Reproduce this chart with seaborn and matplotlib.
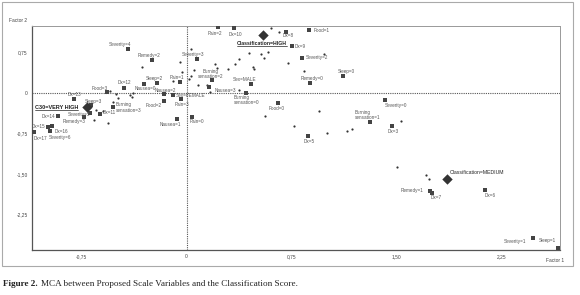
import matplotlib
matplotlib.use("Agg")
import matplotlib.pyplot as plt
import matplotlib.patches as patches
from matplotlib.lines import Line2D
import seaborn as sns
import pandas as pd

# category points (labelled squares)
categories = [
    "Severity=4", "Remedy=2", "Sleep=2", "Pain=1", "Dx=12", "Nausea=0", "Food=3",
    "Nausea=2", "Sex=FEMALE", "Dx=13", "Sleep=3", "Burning sensation=3", "Food=2",
    "Pain=3", "Severity=5", "Dx=11", "Dx=14", "Remedy=3", "Nausea=1", "Pain=0",
    "Dx=15", "Dx=16", "Severity=6", "Dx=17", "Pain=2", "Dx=10", "Dx=8", "Food=1",
    "Dx=9", "Severity=2", "Severity=3", "Burning sensation=2", "Sex=MALE", "Remedy=0",
    "Sleep=0", "Nausea=3", "Burning sensation=0", "Food=0", "Burning sensation=1",
    "Dx=5", "Severity=0", "Dx=3", "Remedy=1", "Dx=7", "Dx=6", "Severity=1", "Sleep=1",
]
factor1 = [
    -0.416, -0.249, -0.213, -0.046, -0.446, -0.304, -0.566,
    -0.161, -0.096, -0.804, -0.682, -0.525, -0.159,
    -0.039, -0.689, -0.618, -0.916, -0.732, -0.070, 0.041,
    -0.987, -0.959, -0.975, -1.089, 0.227, 0.339, 0.711, 0.877,
    0.751, 0.823, 0.075, 0.184, 0.461, 0.882,
    1.120, 0.163, 0.425, 0.656, 1.311,
    0.866, 1.418, 1.466, 1.739, 1.757, 2.132, 2.475, 2.656,
]
factor2 = [
    0.796, 0.599, 0.180, 0.199, 0.077, 0.151, 0.015,
    -0.028, -0.046, -0.120, -0.230, -0.273, -0.151,
    -0.125, -0.378, -0.401, -0.427, -0.451, -0.488, -0.457,
    -0.630, -0.608, -0.709, -0.733, 1.201, 1.182, 1.120, 1.151,
    0.856, 0.630, 0.617, 0.230, 0.157, 0.180,
    0.304, 0.107, -0.009, -0.188, -0.538,
    -0.796, -0.138, -0.617, -1.814, -1.842, -1.796, -2.674, -2.869,
]

# classification score categories (diamonds)
class_names = ["C30=VERY HIGH", "Classification=HIGH", "Classification=MEDIUM"]
class_f1 = [-0.709, 0.544, 1.863]
class_f2 = [-0.273, 1.059, -1.593]

# unlabelled case points (small dots)
case_f1 = [-0.320, 0.032, -0.046, 0.054, -0.032, 0.030, 0.016, -0.096, 0.604, 0.663,
           0.982, 0.584, 0.530, 0.554, 0.449, 0.377, 0.346, 0.204, 0.216, 0.299,
           0.473, 0.482, 0.727, 0.841, 0.084, 0.377, 0.949, 0.561, 0.770, 1.001,
           1.144, 1.180, 1.532, 1.506, 1.709, 1.732, -0.546, -0.504, -0.489, -0.404,
           -0.382, -0.389, -0.525, -0.646, -0.625, -0.596, -0.661, -0.561, 0.145, 0.168]
case_f2 = [0.479, 0.801, 0.562, 0.414, 0.378, 0.304, 0.254, 0.212, 1.182, 1.120,
           0.709, 0.751, 0.703, 0.641, 0.722, 0.617, 0.519, 0.519, 0.446, 0.433,
           0.464, 0.433, 0.538, 0.396, 0.138, 0.046, -0.335, -0.433, -0.617, -0.751,
           -0.709, -0.678, -0.525, -1.366, -1.519, -1.599, 0.028, -0.028, -0.101, -0.046,
           -0.009, -0.083, -0.175, -0.322, -0.396, -0.341, -0.506, -0.562, 0.138, 0.018]

xticks = [-0.75, 0, 0.75, 1.50, 2.25]
xtick_labels = ["-0,75", "0", "0,75", "1,50", "2,25"]
yticks = [0.75, 0, -0.75, -1.50, -2.25]
ytick_labels = ["0,75", "0", "-0,75", "-1,50", "-2,25"]

# label offsets in pixels (dx, dy downwards, alignment)
label_pos = {
    "Severity=4": (-8, -5, "center"), "Remedy=2": (-3, -4.5, "center"),
    "Sleep=2": (-2, -4, "center"), "Pain=1": (-3, -4.5, "center"),
    "Dx=12": (0, -6, "center"), "Nausea=0": (1, 4, "center"),
    "Food=3": (-8, -3.5, "center"), "Nausea=2": (1, -4, "center"),
    "Sex=FEMALE": (3, 0, "left"), "Dx=13": (0, -4.5, "center"),
    "Sleep=3": (2, -4, "center"), "Burning sensation=3": (3, 0, "left"),
    "Food=2": (-11, 4.5, "center"), "Pain=3": (1, 5.5, "center"),
    "Severity=5": (-11, 1, "center"), "Dx=11": (3, -1.5, "left"),
    "Dx=14": (-3, 1, "right"), "Remedy=3": (-10, 4, "center"),
    "Nausea=1": (-6, 5, "center"), "Pain=0": (4.5, 4.5, "center"),
    "Dx=15": (-3, -0.5, "right"), "Dx=16": (9, 6, "center"),
    "Severity=6": (10, 6.5, "center"), "Dx=17": (6, 6, "center"),
    "Pain=2": (-3, 6, "center"), "Dx=10": (1, 6, "center"),
    "Dx=8": (2.3, 4, "center"), "Food=1": (4, 0, "left"),
    "Dx=9": (3, 0.7, "left"), "Severity=2": (4, -0.6, "left"),
    "Severity=3": (-4, -5, "center"), "Burning sensation=2": (-2, -6, "center"),
    "Sex=MALE": (-6, -4.7, "center"), "Remedy=0": (1.7, -4.4, "center"),
    "Sleep=0": (3.4, -4.3, "center"), "Nausea=3": (5.5, 4, "left"),
    "Burning sensation=0": (-12, 7, "left"), "Food=0": (-1.6, 5.6, "center"),
    "Burning sensation=1": (-15, -7, "left"), "Dx=5": (1.3, 5.3, "center"),
    "Severity=0": (0, 5, "left"), "Dx=3": (1.5, 5, "center"),
    "Remedy=1": (-7, -1, "right"), "Dx=7": (4, 4.5, "center"),
    "Dx=6": (5, 5, "center"), "Severity=1": (-7, 4, "right"),
    "Sleep=1": (-2, -8, "right"),
}

sns.set_style("white")
plt.rcParams["font.family"] = ["Liberation Sans", "DejaVu Sans"]

fig = plt.figure(figsize=(5.8, 2.95), dpi=100)
ax = fig.add_axes([0.0552, 0.1525, 0.9103, 0.7594])

cat_df = pd.DataFrame({"f1": factor1, "f2": factor2, "name": categories})
case_df = pd.DataFrame({"f1": case_f1, "f2": case_f2})
cls_df = pd.DataFrame({"f1": class_f1, "f2": class_f2, "name": class_names})

ax.axhline(0, color="#555555", lw=0.8, ls=(0, (1, 1)), zorder=1)
ax.axvline(0, color="#555555", lw=0.8, ls=(0, (1, 1)), zorder=1)

sns.scatterplot(data=case_df, x="f1", y="f2", ax=ax, s=2.5, color="#333333",
                marker="o", linewidth=0, zorder=3)
sns.scatterplot(data=cat_df, x="f1", y="f2", ax=ax, s=5, color="#444444",
                marker="s", linewidth=0, zorder=3)
sns.scatterplot(data=cls_df, x="f1", y="f2", ax=ax, s=28, color="#333333",
                marker="D", linewidth=0, zorder=4)

for _, row in cat_df.iterrows():
    dx, dy, ha = label_pos[row["name"]]
    txt = row["name"].replace("Burning ", "Burning\n")
    ax.annotate(txt, (row["f1"], row["f2"]), xytext=(dx, -dy),
                textcoords="offset pixels", ha=ha, va="center",
                fontsize=3.3, color="#555555", linespacing=1.1)

# classification labels
underlined = []
t = ax.annotate("C30=VERY HIGH", (class_f1[0], class_f2[0]), xytext=(-9, 0),
                textcoords="offset pixels", ha="right", va="center",
                fontsize=4.0, fontweight="bold", color="#222222")
underlined.append(t)
t = ax.annotate("Classification=HIGH", (class_f1[1], class_f2[1]), xytext=(-1, -8),
                textcoords="offset pixels", ha="center", va="center",
                fontsize=3.7, fontweight="bold", color="#222222")
underlined.append(t)
ax.annotate("Classification=MEDIUM", (class_f1[2], class_f2[2]), xytext=(2, 7),
            textcoords="offset pixels", ha="left", va="center",
            fontsize=3.7, color="#222222")

ax.set_xlim(-1.104, 2.668)
ax.set_ylim(-2.90, 1.225)
ax.set_xticks(xticks, xtick_labels)
ax.set_yticks(yticks, ytick_labels)
ax.tick_params(axis="both", labelsize=3.5, colors="#444444", length=2,
               width=0.6, direction="inout", pad=2)
ax.set_xlabel("")
ax.set_ylabel("")
for side in ["left", "bottom"]:
    ax.spines[side].set_color("#555555")
    ax.spines[side].set_linewidth(0.9)
for side in ["top", "right"]:
    ax.spines[side].set_color("#999999")
    ax.spines[side].set_linewidth(0.7)

fig.text(18 / 580, 1 - 20 / 295, "Factor 2", fontsize=3.5, color="#444444",
         ha="center", va="center")
fig.text(555 / 580, 1 - 261 / 295, "Factor 1", fontsize=3.5, color="#444444",
         ha="center", va="center")

# outer frame
fig.add_artist(patches.Rectangle((2 / 580, 1 - 266 / 295), 571 / 580, 264 / 295,
                                 transform=fig.transFigure, fill=False,
                                 edgecolor="#aaaaaa", lw=0.8))

# caption
c1 = fig.text(3 / 580, 1 - 284 / 295, "Figure 2.", fontsize=6.6, fontweight="bold",
              family="Liberation Serif", color="#222222", va="center")
fig.canvas.draw()
r = fig.canvas.get_renderer()
bb = c1.get_window_extent(r)
fig.text((bb.x1 + 3) / (5.8 * 100), 1 - 284 / 295,
         "MCA between Proposed Scale Variables and the Classification Score.",
         fontsize=6.6, family="Liberation Serif", color="#222222", va="center")

# underline for highlighted classes
for t in underlined:
    b = t.get_window_extent(r)
    fig.add_artist(Line2D([b.x0 / 580, b.x1 / 580], [(b.y0 - 0.5) / 295] * 2,
                          transform=fig.transFigure, color="#222222", lw=0.5))

fig.savefig("out.png", dpi=100)
